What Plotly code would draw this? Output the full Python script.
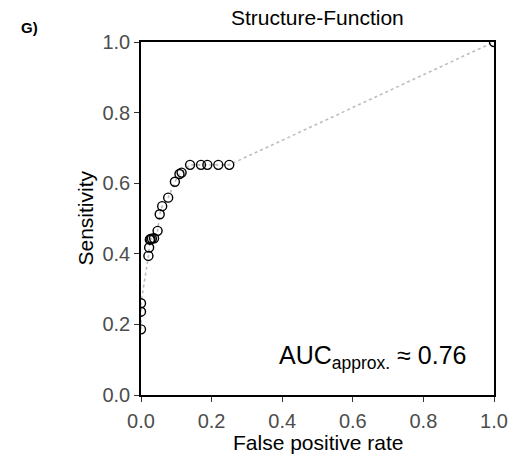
import plotly.graph_objects as go

# ROC points (false positive rate, sensitivity)
fpr = [0.0, 0.0, 0.0, 0.021, 0.023, 0.025, 0.027, 0.031, 0.037, 0.047, 0.053, 0.060,
       0.077, 0.096, 0.109, 0.115, 0.139, 0.170, 0.188, 0.219, 0.250, 1.0]
sens = [0.186, 0.236, 0.260, 0.394, 0.418, 0.440, 0.442, 0.443, 0.444, 0.465, 0.512, 0.535,
        0.559, 0.604, 0.626, 0.630, 0.652, 0.652, 0.652, 0.652, 0.652, 1.0]

tick_vals = [0.0, 0.2, 0.4, 0.6, 0.8, 1.0]
tick_text = ["0.0", "0.2", "0.4", "0.6", "0.8", "1.0"]

title_text = "Structure-Function"
x_title = "False positive rate"
y_title = "Sensitivity"
auc_text = "AUC<sub>approx.</sub> ≈ 0.76"
panel_label = "<b>G)</b>"

FONT = "Liberation Sans, Arial, sans-serif"
W, H = 513, 459
L, R, T, B = 141, 19, 42, 64
pw = W - L - R
ph = H - T - B

fig = go.Figure()
fig.add_trace(go.Scatter(
    x=fpr, y=sens, mode="lines",
    line=dict(color="#bdbdbd", width=1.6, dash="dot"),
    hoverinfo="skip", showlegend=False))
fig.add_trace(go.Scatter(
    x=fpr, y=sens, mode="markers",
    marker=dict(symbol="circle-open", size=9, color="black", line=dict(width=1.4, color="black")),
    showlegend=False, cliponaxis=True))

axis_common = dict(
    range=[0, 1], showgrid=False, zeroline=False,
    showline=True, linecolor="black", linewidth=1.6, mirror=True,
    ticks="outside", ticklen=5, tickwidth=1.2, tickcolor="#333333",
    tickvals=tick_vals, ticktext=tick_text,
    tickfont=dict(family=FONT, size=20, color="#4d4d4d"),
    fixedrange=True,
)
fig.update_xaxes(**axis_common, ticklabelstandoff=2)
fig.update_yaxes(**axis_common)

def px_x(px):
    return (px - L) / pw

def px_y(py):
    return (H - B - py) / ph

annotations = [
    dict(text=title_text, xref="paper", yref="paper", x=0.5, y=px_y(18),
         xanchor="center", yanchor="middle", showarrow=False,
         font=dict(family=FONT, size=21, color="black")),
    dict(text=x_title, xref="paper", yref="paper", x=0.5, y=px_y(442),
         xanchor="center", yanchor="middle", showarrow=False,
         font=dict(family=FONT, size=21, color="black")),
    dict(text=y_title, xref="paper", yref="paper", x=px_x(85), y=0.5,
         xanchor="center", yanchor="middle", textangle=-90, showarrow=False,
         font=dict(family=FONT, size=21, color="black")),
    dict(text=auc_text, xref="paper", yref="paper", x=px_x(468), y=px_y(357),
         xanchor="right", yanchor="middle", showarrow=False,
         font=dict(family=FONT, size=25, color="black")),
    dict(text=panel_label, xref="paper", yref="paper", x=px_x(29), y=px_y(27),
         xanchor="center", yanchor="middle", showarrow=False,
         font=dict(family=FONT, size=15, color="black")),
]

fig.update_layout(
    width=W, height=H,
    margin=dict(l=L, r=R, t=T, b=B, autoexpand=False),
    paper_bgcolor="white", plot_bgcolor="white",
    annotations=annotations,
    showlegend=False,
)

fig.write_html(
    "out.html",
    config={"displayModeBar": False},
    post_script="document.body.style.margin='0';document.body.style.overflow='hidden';",
)
